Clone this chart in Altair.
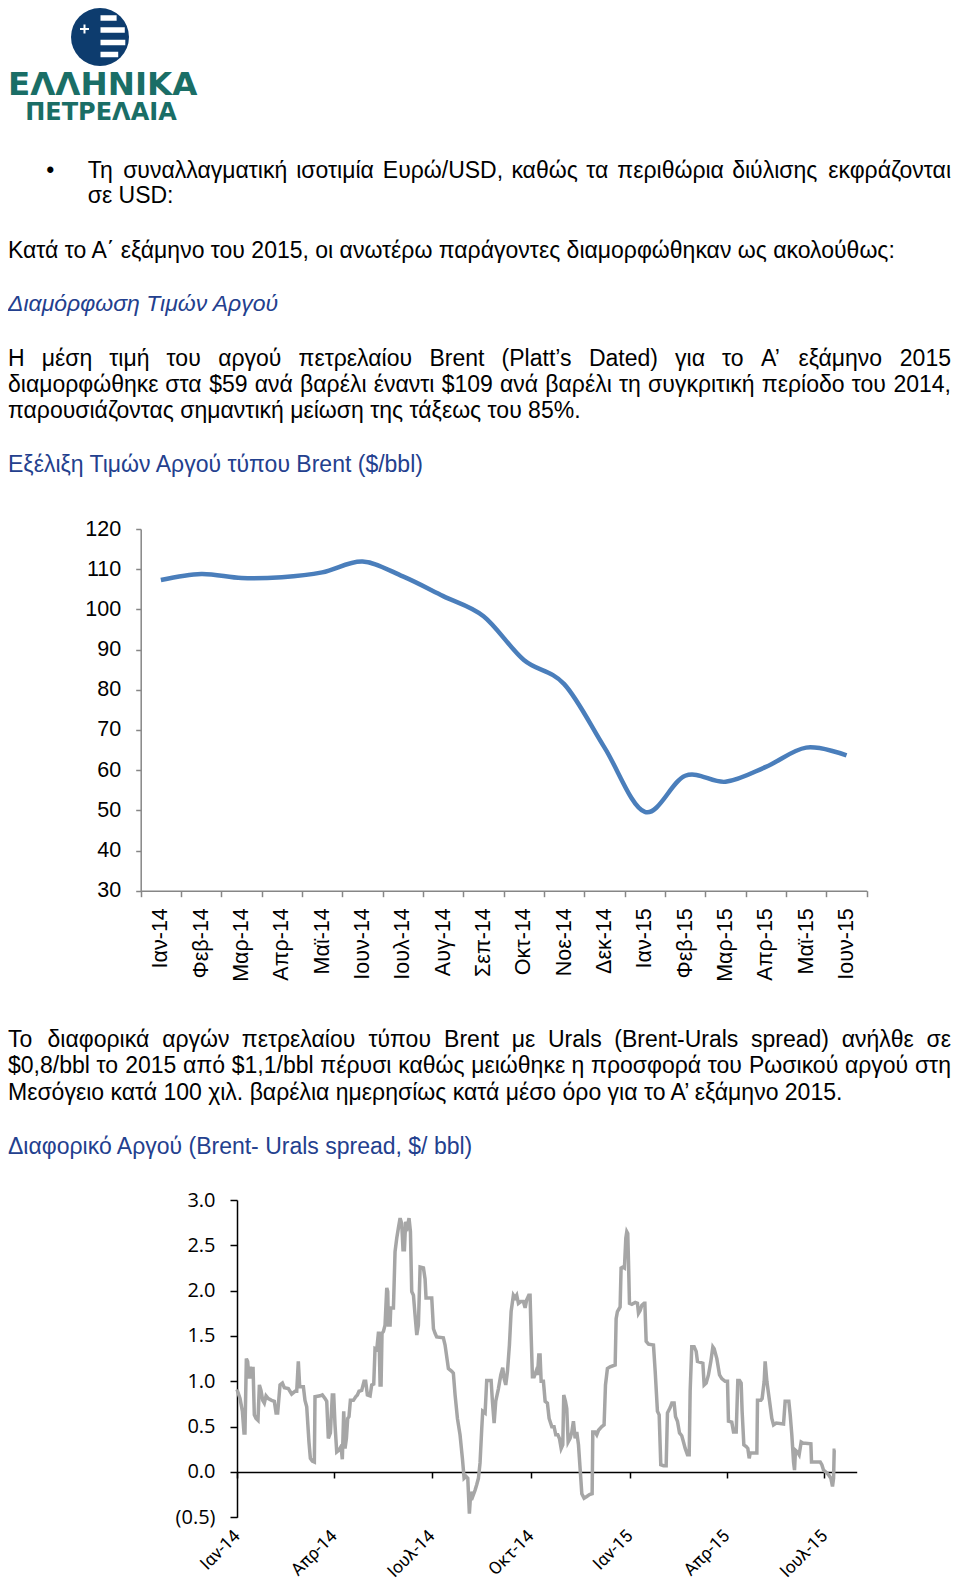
import math
import unicodedata
import altair as alt
import pandas as pd

# ---------------- data ----------------
months = ["Ιαν-14", "Φεβ-14", "Μαρ-14", "Απρ-14", "Μαϊ-14", "Ιουν-14", "Ιουλ-14", "Αυγ-14", "Σεπ-14",
          "Οκτ-14", "Νοε-14", "Δεκ-14", "Ιαν-15", "Φεβ-15", "Μαρ-15", "Απρ-15", "Μαϊ-15", "Ιουν-15"]
brent = [107.3, 108.8, 107.8, 108.0, 109.2, 111.9, 108.2, 103.3, 98.3,
         87.4, 81.4, 65.6, 49.6, 58.6, 57.1, 60.8, 65.6, 63.7]

brent_ticks = [30, 40, 50, 60, 70, 80, 90, 100, 110, 120]
spread_ticks = [-0.5, 0.0, 0.5, 1.0, 1.5, 2.0, 2.5, 3.0]
greek_months = ["Ιαν", "Φεβ", "Μαρ", "Απρ", "Μαϊ", "Ιουν", "Ιουλ", "Αυγ", "Σεπ", "Οκτ", "Νοε", "Δεκ"]

# (days since 1 Jan 2014, Brent-Urals spread $/bbl)
spread_points = [
    (0.0, 0.91), (2.8, 0.81), (5.0, 0.67), (6.5, 0.43), (7.4, 0.43), (8.7, 1.25), (9.9, 1.22), (11.2, 1.03),
    (12.4, 1.16), (13.6, 1.03), (14.9, 1.16), (16.1, 0.63), (17.7, 0.59), (19.5, 0.57), (20.8, 0.96), (22.3, 0.90),
    (23.9, 0.79), (25.4, 0.76), (27.0, 0.84), (29.1, 0.81), (32.2, 0.79), (34.7, 0.78), (36.3, 0.65), (37.8, 0.65),
    (40.0, 0.96), (42.2, 0.98), (44.0, 0.93), (47.7, 0.92), (50.8, 0.86), (53.9, 0.89), (55.5, 0.89), (57.0, 1.22),
    (58.3, 0.94), (61.7, 0.94), (63.2, 0.79), (64.8, 0.72), (66.9, 0.33), (68.2, 0.15), (70.0, 0.12), (71.9, 0.11),
    (72.5, 0.83), (77.2, 0.84), (79.3, 0.85), (81.8, 0.81), (83.4, 0.78), (84.9, 0.37), (86.8, 0.43), (88.6, 0.85),
    (89.9, 0.85), (91.1, 0.52), (92.7, 0.22), (94.8, 0.24), (96.7, 0.28), (97.9, 0.14), (99.2, 0.67), (100.4, 0.26),
    (101.7, 0.37), (102.9, 0.59), (104.1, 0.61), (105.4, 0.79), (108.2, 0.79), (110.3, 0.83), (111.9, 0.85),
    (113.4, 0.89), (115.9, 0.90), (118.1, 1.00), (119.6, 1.00), (121.2, 0.85), (123.7, 0.84), (125.2, 0.96),
    (127.1, 0.97), (128.3, 1.36), (129.9, 1.35), (131.4, 1.53), (132.0, 1.53), (133.0, 0.96), (133.9, 0.96),
    (134.8, 1.53), (136.1, 1.55), (137.6, 1.62), (139.2, 2.03), (140.1, 1.99), (140.7, 1.62), (142.3, 1.62),
    (142.9, 1.81), (145.4, 1.81), (146.9, 2.43), (148.5, 2.58), (150.0, 2.69), (151.6, 2.80), (153.1, 2.74),
    (154.3, 2.45), (155.6, 2.45), (156.8, 2.76), (158.4, 2.71), (159.9, 2.80), (161.2, 2.65), (162.4, 1.99),
    (164.0, 1.95), (165.5, 1.73), (167.1, 1.51), (168.6, 1.62), (170.2, 2.26), (173.3, 2.25), (174.8, 2.13),
    (175.7, 1.92), (179.5, 1.92), (181.0, 1.92), (182.6, 1.58), (184.1, 1.53), (185.6, 1.49), (191.8, 1.48),
    (193.4, 1.40), (196.5, 1.14), (199.6, 1.11), (201.1, 1.09), (202.7, 0.85), (204.9, 0.59), (207.3, 0.41),
    (209.5, 0.15), (211.1, -0.07), (212.9, -0.05), (214.5, -0.07), (216.0, -0.46), (217.3, -0.22), (219.1, -0.27),
    (221.3, -0.20), (222.8, -0.14), (224.4, -0.07), (225.9, 0.10), (227.5, 0.48), (228.4, 0.67), (230.6, 0.65),
    (232.1, 1.01), (236.2, 1.01), (237.4, 0.78), (239.0, 0.54), (240.5, 0.78), (243.0, 0.92), (245.2, 1.07),
    (247.0, 1.15), (248.3, 1.03), (249.8, 0.96), (251.4, 1.11), (253.2, 1.40), (254.8, 1.77), (256.9, 1.95),
    (258.5, 1.92), (260.0, 1.95), (261.6, 1.86), (263.8, 1.88), (266.2, 1.88), (267.8, 1.81), (269.3, 1.90),
    (271.2, 1.95), (272.4, 1.95), (273.4, 1.51), (274.6, 1.05), (276.2, 1.05), (278.0, 1.11), (279.3, 1.07),
    (280.5, 1.29), (281.7, 1.29), (282.7, 1.00), (284.8, 1.00), (286.4, 0.78), (288.5, 0.76), (290.1, 0.59),
    (292.6, 0.50), (294.7, 0.50), (296.3, 0.41), (298.2, 0.41), (299.7, 0.37), (301.3, 0.26), (302.8, 0.30),
    (303.7, 0.85), (305.3, 0.78), (306.5, 0.70), (307.8, 0.33), (309.6, 0.37), (311.2, 0.44), (312.7, 0.56),
    (314.3, 0.37), (315.8, 0.44), (317.4, 0.30), (318.9, 0.04), (320.5, -0.24), (322.6, -0.29), (325.1, -0.27),
    (327.6, -0.25), (330.1, -0.24), (330.7, 0.44), (332.9, 0.44), (334.4, 0.41), (336.0, 0.46), (339.1, 0.50),
    (341.2, 0.52), (342.5, 0.96), (344.3, 1.14), (346.8, 1.16), (351.5, 1.18), (352.4, 1.69), (353.6, 1.77),
    (356.1, 1.82), (357.0, 2.25), (358.6, 2.26), (360.1, 2.25), (361.4, 2.58), (362.3, 2.65), (363.2, 2.63),
    (363.9, 2.32), (364.8, 1.86), (367.0, 1.85), (370.1, 1.87), (372.2, 1.86), (373.2, 1.75), (374.7, 1.78),
    (376.3, 1.84), (378.4, 1.86), (379.1, 1.86), (380.3, 1.44), (382.5, 1.41), (387.1, 1.40), (388.7, 1.11),
    (390.8, 0.67), (392.4, 0.63), (393.9, 0.08), (396.4, 0.07), (398.9, 0.07), (400.1, 0.65), (402.6, 0.71),
    (404.2, 0.76), (406.3, 0.76), (407.6, 0.61), (409.4, 0.56), (411.3, 0.43), (413.4, 0.40), (415.0, 0.33),
    (416.6, 0.26), (418.7, 0.19), (420.3, 0.19), (421.2, 0.89), (422.7, 1.38), (424.9, 1.38), (426.8, 1.33),
    (428.0, 1.22), (433.0, 1.20), (434.2, 0.96), (436.1, 0.98), (438.2, 1.07), (440.4, 1.22), (442.3, 1.38),
    (443.5, 1.36), (446.0, 1.25), (448.5, 1.07), (450.6, 1.03), (453.7, 1.00), (455.9, 1.00), (456.8, 0.56),
    (459.9, 0.55), (461.5, 0.44), (464.0, 0.44), (465.5, 1.01), (467.1, 1.01), (468.6, 0.98), (469.5, 0.67),
    (471.1, 0.30), (473.3, 0.28), (474.8, 0.26), (476.1, 0.15), (477.0, 0.21), (483.2, 0.21), (483.8, 0.79),
    (486.9, 0.79), (488.1, 0.81), (490.0, 1.00), (490.9, 1.22), (492.5, 1.00), (495.0, 0.78), (497.1, 0.59),
    (498.7, 0.52), (501.2, 0.54), (508.0, 0.53), (509.5, 0.78), (512.9, 0.78), (514.2, 0.63), (515.7, 0.41),
    (517.3, 0.11), (518.2, 0.02), (519.1, 0.24), (521.0, 0.22), (522.5, 0.19), (524.4, 0.33), (526.0, 0.32),
    (533.4, 0.31), (534.0, 0.11), (542.1, 0.11), (543.6, 0.08), (545.2, 0.02), (547.3, 0.00), (549.8, -0.03),
    (552.0, -0.07), (553.5, -0.16), (554.5, -0.07), (555.1, 0.24), (556.3, 0.24),
]

# ---------------- texts ----------------
para1_bullet = ["Τη συναλλαγματική ισοτιμία Ευρώ/USD, καθώς τα περιθώρια διύλισης εκφράζονται",
                "σε USD:"]
para2 = "Κατά το Α΄ εξάμηνο του 2015, οι ανωτέρω παράγοντες διαμορφώθηκαν ως ακολούθως:"
heading1 = "Διαμόρφωση Τιμών Αργού"
para3 = ["Η μέση τιμή του αργού πετρελαίου Brent (Platt’s Dated) για το Α’ εξάμηνο 2015",
         "διαμορφώθηκε στα $59 ανά βαρέλι έναντι $109 ανά βαρέλι τη συγκριτική περίοδο του 2014,",
         "παρουσιάζοντας σημαντική μείωση της τάξεως του 85%."]
title1 = "Εξέλιξη Τιμών Αργού τύπου Brent ($/bbl)"
para4 = ["Το διαφορικά αργών πετρελαίου τύπου Brent με Urals (Brent-Urals spread) ανήλθε σε",
         "$0,8/bbl το 2015 από $1,1/bbl πέρυσι καθώς μειώθηκε η προσφορά του Ρωσικού αργού στη",
         "Μεσόγειο κατά 100 χιλ. βαρέλια ημερησίως κατά μέσο όρο για το Α’ εξάμηνο 2015."]
title2 = "Διαφορικό Αργού (Brent- Urals spread, $/ bbl)"

# ---------------- style ----------------
FONT = "Liberation Sans"
FS = 23
BLUE_TXT = "#23408E"
NAVY = "#0D3C6E"
TEAL = "#1A6E66"
LINE1 = "#4A7EBB"
LINE2 = "#A6A6A6"
AX1 = "#868686"
W, H = 944, 1572
LH = 26.2
RIGHT = 943
DY = 1.5  # small baseline correction

dummy = pd.DataFrame({"d": [0]})

# approximate Arial / Liberation Sans advance widths (1/1000 em) used to justify lines
_w = {" ": 278, "$": 556, "(": 333, ")": 333, ",": 278, "-": 333, ".": 278, "/": 278, ":": 278, "%": 889,
      "’": 222, "'": 191, "a": 556, "b": 556, "c": 500, "d": 556, "e": 556, "l": 222, "n": 556, "o": 556,
      "p": 556, "r": 333, "s": 500, "t": 278, "A": 667, "B": 667, "D": 722, "P": 667, "S": 667, "U": 722,
      "R": 722, "E": 667,
      "α": 578, "β": 575, "γ": 500, "δ": 557, "ε": 446, "ζ": 441, "η": 556, "θ": 556, "ι": 222, "κ": 500,
      "λ": 500, "μ": 576, "ν": 500, "ξ": 448, "ο": 556, "π": 690, "ρ": 569, "σ": 617, "ς": 484, "τ": 395,
      "υ": 549, "φ": 648, "χ": 524, "ψ": 713, "ω": 764,
      "Α": 667, "Β": 667, "Γ": 551, "Δ": 668, "Ε": 667, "Η": 722, "Θ": 778, "Ι": 278, "Κ": 667, "Λ": 668,
      "Μ": 833, "Ν": 722, "Ο": 778, "Π": 722, "Ρ": 667, "Σ": 618, "Τ": 611, "Υ": 667, "Φ": 797, "Χ": 667}


def text_width(s, size):
    tot = 0
    for ch in s:
        base = unicodedata.normalize("NFD", ch)[0]
        tot += _w.get(ch, _w.get(base, 556))
    return tot / 1000.0 * size


def txt(s, x, y, size=FS, color="black", italic=False, bold=False, font=FONT, align="left"):
    kw = dict(text=s, align=align, baseline="alphabetic", font=font, fontSize=size, color=color)
    if italic:
        kw["fontStyle"] = "italic"
    if bold:
        kw["fontWeight"] = "bold"
    return alt.Chart(dummy).mark_text(**kw).encode(x=alt.value(x), y=alt.value(y))


def justified(line, x0, x1, y, size=FS):
    words = line.split(" ")
    widths = [text_width(w, size) for w in words]
    gap = (x1 - x0 - sum(widths)) / (len(words) - 1)
    out, x = [], x0
    for i, (wd, wdw) in enumerate(zip(words, widths)):
        if i == len(words) - 1:
            out.append(txt(wd, x1, y, size, align="right"))
        else:
            out.append(txt(wd, x, y, size))
        x += wdw + gap
    return out


# ---------------- logo ----------------
cx, cy, r = 92.0, 29.0, 29.0
logo = [alt.Chart(dummy).mark_point(shape="circle", filled=True, size=(2 * r) ** 2,
                                    color=NAVY, opacity=1, strokeWidth=0)
        .encode(x=alt.value(cx), y=alt.value(cy))]
for dy in [-19.0, -7.0, 5.5, 17.5]:
    edge = math.sqrt(max(r * r - (abs(dy) + 2.8) ** 2, 0)) - 2.5
    logo.append(alt.Chart(dummy).mark_rule(color="white", strokeWidth=5.5)
                .encode(x=alt.value(cx + 0.5), x2=alt.value(cx + edge), y=alt.value(cy + dy)))
pcx, pcy = cx - 15.5, cy - 8
logo.append(alt.Chart(dummy).mark_rule(color="white", strokeWidth=2)
            .encode(x=alt.value(pcx - 4.5), x2=alt.value(pcx + 4.5), y=alt.value(pcy)))
logo.append(alt.Chart(dummy).mark_rule(color="white", strokeWidth=2)
            .encode(x=alt.value(pcx), y=alt.value(pcy - 4.5), y2=alt.value(pcy + 4.5)))
logo.append(txt("ΕΛΛΗΝΙΚΑ", 0, 87.3, size=32.5, color=TEAL, bold=True, font="DejaVu Sans"))
logo.append(txt("ΠΕΤΡΕΛΑΙΑ", 93, 111.5, size=24, color=TEAL, bold=True, font="DejaVu Sans", align="center"))

# ---------------- text blocks ----------------
y1 = 168.4 + DY
texts = [txt("•", 42.4, y1, align="center")]
texts += justified(para1_bullet[0], 79.7, RIGHT, y1)
texts += [txt(para1_bullet[1], 79.7, y1 + 25.2),
          txt(para2, 0, 248.0 + DY),
          txt(heading1, 0, 301.5 + DY, color=BLUE_TXT, italic=True)]
y3 = 356.0 + DY
texts += justified(para3[0], 0, RIGHT, y3)
texts += justified(para3[1], 0, RIGHT, y3 + LH)
texts += [txt(para3[2], 0, y3 + 2 * LH),
          txt(title1, 0, 462.9 + DY, color=BLUE_TXT)]
b2 = 1037.7 + DY
texts += justified(para4[0], 0, RIGHT, b2)
texts += justified(para4[1], 0, RIGHT, b2 + LH)
texts += [txt(para4[2], 0, b2 + 2 * LH),
          txt(title2, 0, 1144.5 + DY, color=BLUE_TXT)]

# ---------------- Brent chart ----------------
P1_X0, P1_X1, P1_TOP, P1_BOT = 132.7, 858.7, 521.0, 882.7
df1 = pd.DataFrame({"month": months, "price": brent})
brent_line = alt.Chart(df1).mark_line(color=LINE1, strokeWidth=4.5, interpolate="cardinal", tension=0).encode(
    x=alt.X("month:O", sort=months, bandPosition=0.5,
            scale=alt.Scale(type="band", paddingInner=0, paddingOuter=0, range=[P1_X0, P1_X1]),
            axis=alt.Axis(title=None, orient="bottom", tickBand="extent", labelAngle=270, labelFont=FONT,
                          labelFontSize=21.5, labelColor="black", domainColor=AX1, tickColor=AX1,
                          domainWidth=1.5, tickWidth=1.5, tickSize=6, labelPadding=11,
                          offset=P1_BOT - H, grid=False, labelOverlap=False)),
    y=alt.Y("price:Q", scale=alt.Scale(domain=[30, 120], range=[P1_BOT, P1_TOP], zero=False, nice=False),
            axis=alt.Axis(title=None, orient="left", values=brent_ticks, labelFont=FONT, labelFontSize=21.5,
                          labelColor="black", domainColor=AX1, tickColor=AX1, domainWidth=1.5, tickWidth=1.5,
                          tickSize=5, labelPadding=15, offset=-P1_X0, grid=False, labelFlush=False,
                          labelOverlap=False)),
)

# ---------------- Brent-Urals spread chart ----------------
P2_X0, P2_X1, P2_TOP, P2_BOT = 229.0, 848.7, 1192.0, 1509.3
zero_y = P2_TOP + (P2_BOT - P2_TOP) * 3.0 / 3.5
df2 = pd.DataFrame(spread_points, columns=["day", "spread"])
df2["date"] = pd.Timestamp("2014-01-01") + pd.to_timedelta(df2["day"], unit="D")
quarters = [alt.DateTime(year=y, month=m, date=1) for y, m in
            [(2014, 1), (2014, 4), (2014, 7), (2014, 10), (2015, 1), (2015, 4), (2015, 7)]]
month_js = "[" + ",".join("'" + m + "'" for m in greek_months) + "]"
spread_line = alt.Chart(df2).mark_line(color=LINE2, strokeWidth=3.5).encode(
    x=alt.X("date:T",
            scale=alt.Scale(domain=[alt.DateTime(year=2014, month=1, date=1),
                                    alt.DateTime(year=2015, month=7, date=31)],
                            range=[P2_X0, P2_X1], nice=False),
            axis=alt.Axis(title=None, orient="bottom", values=quarters,
                          labelExpr=month_js + "[month(datum.value)] + '-' + timeFormat(datum.value, '%y')",
                          labelAngle=315, labelAlign="right", labelBaseline="middle",
                          labelFont="Roboto", labelFontSize=17.5, labelColor="black",
                          domainColor="black", tickColor="black", domainWidth=1.5, tickWidth=1.5, tickSize=6,
                          labelPadding=55, offset=zero_y - H, grid=False, labelFlush=False,
                          labelOverlap=False)),
    y=alt.Y("spread:Q", scale=alt.Scale(domain=[-0.5, 3.0], range=[P2_BOT, P2_TOP], zero=False, nice=False),
            axis=alt.Axis(title=None, orient="left", values=spread_ticks,
                          labelExpr="datum.value < 0 ? '(' + format(-datum.value, '.1f') + ')' : format(datum.value, '.1f')",
                          labelFont="Open Sans", labelFontSize=20, labelColor="black",
                          domainColor="black", tickColor="black", domainWidth=1.5, tickWidth=1.5, tickSize=7,
                          labelPadding=15, offset=-P2_X0, grid=False, labelFlush=False, labelOverlap=False)),
)

chart = (
    alt.layer(*logo, *texts, brent_line, spread_line)
    .resolve_scale(x="independent", y="independent")
    .resolve_axis(x="independent", y="independent")
    .properties(width=W, height=H, padding=0, autosize=alt.AutoSizeParams(type="none"))
    .configure_view(strokeWidth=0)
)

chart.save("out.html", embed_options={"renderer": "svg", "actions": False})
